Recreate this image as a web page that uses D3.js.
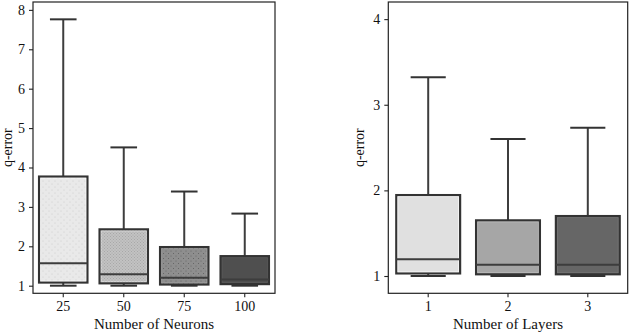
<!DOCTYPE html>
<html><head><meta charset="utf-8">
<script src="https://cdn.jsdelivr.net/npm/d3@7"></script>
<style>body{margin:0;background:#fff}svg{display:block}text{font-family:"Liberation Serif","Times New Roman",serif;fill:#111}</style>
</head><body><svg id="c" width="632" height="334"></svg>
<script>
// Left panel: Number of Neurons
const neuronCats = ["25","50","75","100"];
const neuronLow  = [1.0, 1.0, 1.0, 1.0];
const neuronQ1   = [1.08, 1.06, 1.03, 1.04];
const neuronMed  = [1.57, 1.29, 1.20, 1.16];
const neuronQ3   = [3.77, 2.43, 1.98, 1.75];
const neuronHigh = [7.76, 4.51, 3.39, 2.83];
const neuronFill = ["#e9e9e9","#c2c2c2","#8e8e8e","#4f4f4f"];
const neuronTicks = [1,2,3,4,5,6,7,8];

// Right panel: Number of Layers
const layerCats = ["1","2","3"];
const layerLow  = [1.0, 1.0, 1.0];
const layerQ1   = [1.03, 1.02, 1.02];
const layerMed  = [1.195, 1.13, 1.13];
const layerQ3   = [1.945, 1.65, 1.70];
const layerHigh = [3.32, 2.60, 2.73];
const layerFill = ["#e0e0e0","#a6a6a6","#666666"];
const layerTicks = [1,2,3,4];

const svg = d3.select("#c");
const defs = svg.append("defs");
function dotPattern(id, bg, dot, step){
  const p = defs.append("pattern").attr("id",id).attr("patternUnits","userSpaceOnUse")
    .attr("width",step).attr("height",step);
  p.append("rect").attr("width",step).attr("height",step).attr("fill",bg);
  p.append("circle").attr("cx",1).attr("cy",1).attr("r",0.5).attr("fill",dot);
  p.append("circle").attr("cx",1+step/2).attr("cy",1+step/2).attr("r",0.5).attr("fill",dot);
  return "url(#"+id+")";
}

function panel(opt){
  const g = svg.append("g");
  const x = d3.scaleBand().domain(opt.cats).range([opt.x0, opt.x1]).paddingInner(0).paddingOuter(0);
  const y = d3.scaleLinear().domain(opt.ydom).range([opt.y1, opt.y0]);
  const bw = x.bandwidth()*0.8;
  const cw = bw*0.55;
  opt.cats.forEach((c,i)=>{
    const cx = x(c)+x.bandwidth()/2;
    const fill = opt.patterns[i] ? dotPattern(opt.id+i, opt.fill[i], opt.patterns[i], opt.steps[i]) : opt.fill[i];
    g.append("line").attr("x1",cx).attr("x2",cx).attr("y1",y(opt.q3[i])).attr("y2",y(opt.high[i]))
      .attr("stroke","#3d3d3d").attr("stroke-width",2);
    g.append("line").attr("x1",cx).attr("x2",cx).attr("y1",y(opt.q1[i])).attr("y2",y(opt.low[i]))
      .attr("stroke","#3d3d3d").attr("stroke-width",2);
    g.append("line").attr("x1",cx-cw/2).attr("x2",cx+cw/2).attr("y1",y(opt.high[i])).attr("y2",y(opt.high[i]))
      .attr("stroke","#333").attr("stroke-width",2);
    g.append("line").attr("x1",cx-cw/2).attr("x2",cx+cw/2).attr("y1",y(opt.low[i])).attr("y2",y(opt.low[i]))
      .attr("stroke","#333").attr("stroke-width",2);
    g.append("rect").attr("x",cx-bw/2).attr("y",y(opt.q3[i])).attr("width",bw)
      .attr("height",y(opt.q1[i])-y(opt.q3[i])).attr("fill",fill)
      .attr("stroke","#333").attr("stroke-width",2.2);
    g.append("rect").attr("x",cx-bw/2+1.6).attr("y",y(opt.q3[i])+1.6).attr("width",bw-3.2)
      .attr("height",Math.max(0,y(opt.q1[i])-y(opt.q3[i])-3.2)).attr("fill","none")
      .attr("stroke",d3.color(opt.fill[i]).brighter(0.5)).attr("stroke-width",0.8).attr("opacity",0.7);
    g.append("line").attr("x1",cx-bw/2).attr("x2",cx+bw/2).attr("y1",y(opt.med[i])).attr("y2",y(opt.med[i]))
      .attr("stroke","#3d3d3d").attr("stroke-width",2);
  });
  g.append("rect").attr("x",opt.x0).attr("y",opt.y0).attr("width",opt.x1-opt.x0).attr("height",opt.y1-opt.y0)
    .attr("fill","none").attr("stroke","#222").attr("stroke-width",1.2);
  const ya = g.append("g").attr("transform",`translate(${opt.x0},0)`)
    .call(d3.axisLeft(y).tickValues(opt.ticks).tickFormat(d3.format("d")).tickSize(4).tickPadding(4));
  const xa = g.append("g").attr("transform",`translate(0,${opt.y1})`)
    .call(d3.axisBottom(x).tickSize(4).tickPadding(4));
  [ya,xa].forEach(a=>{
    a.select(".domain").remove();
    a.selectAll(".tick line").attr("stroke","#222").attr("stroke-width",1.1);
    a.selectAll(".tick text").attr("font-size",14).attr("font-family","Liberation Serif, serif").attr("fill","#111");
  });
  g.append("text").attr("x",(opt.x0+opt.x1)/2).attr("y",329).attr("text-anchor","middle")
    .attr("font-size",15).text(opt.xlabel);
  g.append("text").attr("transform",`translate(${opt.ylabX},${(opt.y0+opt.y1)/2}) rotate(-90)`)
    .attr("text-anchor","middle").attr("font-size",14).text("q-error");
}

panel({id:"n", cats:neuronCats, low:neuronLow, q1:neuronQ1, med:neuronMed, q3:neuronQ3, high:neuronHigh,
  fill:neuronFill, patterns:["#c8c8c8","#a0a0a0","#5a5a5a",null], steps:[6,3,5,5],
  ticks:neuronTicks, ydom:[0.807,8.2], x0:33, x1:275, y0:2, y1:293.3, xlabel:"Number of Neurons", ylabX:12});
panel({id:"l", cats:layerCats, low:layerLow, q1:layerQ1, med:layerMed, q3:layerQ3, high:layerHigh,
  fill:layerFill, patterns:[null,null,null], steps:[5,5,5],
  ticks:layerTicks, ydom:[0.798,4.2], x0:388.3, x1:627.7, y0:2, y1:293.3, xlabel:"Number of Layers", ylabX:364});
</script></body></html>
